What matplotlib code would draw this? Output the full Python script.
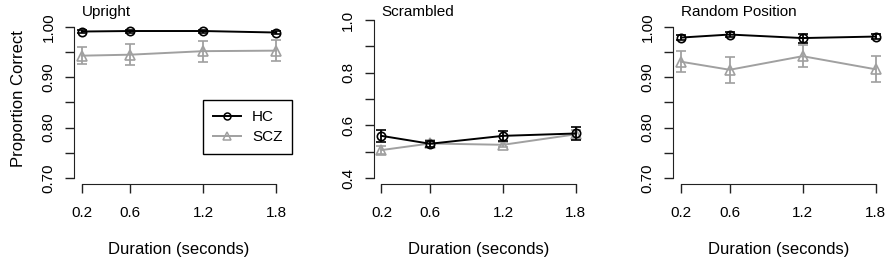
import numpy as np
import matplotlib
matplotlib.use('Agg')
import matplotlib.pyplot as plt
from matplotlib.lines import Line2D

plt.rcParams['font.family'] = ['Liberation Sans', 'DejaVu Sans']

durations = [0.2, 0.6, 1.2, 1.8]
panel_titles = ['Upright', 'Scrambled', 'Random Position']

# proportion correct
hc_upright = [0.991, 0.992, 0.992, 0.989]
hc_upright_err = [0.003, 0.003, 0.003, 0.003]
scz_upright = [0.943, 0.945, 0.952, 0.953]
scz_upright_err = [0.017, 0.021, 0.021, 0.021]

hc_scrambled = [0.560, 0.530, 0.560, 0.569]
hc_scrambled_err = [0.022, 0.012, 0.020, 0.023]
scz_scrambled = [0.506, 0.531, 0.526, 0.566]
scz_scrambled_err = [0.015, 0.012, 0.010, 0.015]

hc_random = [0.979, 0.985, 0.978, 0.981]
hc_random_err = [0.005, 0.005, 0.009, 0.005]
scz_random = [0.931, 0.915, 0.942, 0.916]
scz_random_err = [0.021, 0.026, 0.022, 0.026]

yticks_list = [[0.70, 0.80, 0.90, 1.00], [0.4, 0.6, 0.8, 1.0], [0.70, 0.80, 0.90, 1.00]]
ytick_fmt = ['%.2f', '%.1f', '%.2f']
yminor_list = [[0.75, 0.85, 0.95], [0.5, 0.7, 0.9], [0.75, 0.85, 0.95]]

hc_all = [(hc_upright, hc_upright_err), (hc_scrambled, hc_scrambled_err), (hc_random, hc_random_err)]
scz_all = [(scz_upright, scz_upright_err), (scz_scrambled, scz_scrambled_err), (scz_random, scz_random_err)]

W, H = 892, 263
fig = plt.figure(figsize=(W / 100, H / 100), dpi=100)

lefts = [74, 373.7, 673.3]
width_px = 210
top_px, bot_px = 13.7, 184.3
gray = '#a0a0a0'

for i in range(3):
    ax = fig.add_axes([lefts[i] / W, 1 - bot_px / H, width_px / W, (bot_px - top_px) / H])
    yt = yticks_list[i]
    span = yt[-1] - yt[0]
    # y limits chosen so the axis ticks line up with the figure
    if i == 1:
        ax.set_ylim(yt[0] - 0.04 * span, yt[-1] + 0.04 * span)
    else:
        ax.set_ylim(yt[0] - 0.0417 * span, yt[-1] + 0.088 * span)
    ax.set_xlim(0.2 - 0.064, 1.8 + 0.064)

    y, e = scz_all[i]
    ax.errorbar(durations, y, yerr=e, color=gray, marker='^', markersize=7.5,
                markerfacecolor='none', markeredgewidth=1.2, lw=1.4, capsize=3.8, elinewidth=1.3,
                capthick=1.3, zorder=2)
    y, e = hc_all[i]
    ax.errorbar(durations, y, yerr=e, color='black', marker='o', markersize=6,
                markerfacecolor='none', markeredgewidth=1.2, lw=1.4, capsize=3.8, elinewidth=1.3,
                capthick=1.3, zorder=3)

    for s in ['top', 'right']:
        ax.spines[s].set_visible(False)
    ax.spines['left'].set_bounds(yt[0], yt[-1])
    ax.spines['bottom'].set_bounds(0.2, 1.8)
    ax.spines['left'].set_color('#222222')
    ax.spines['bottom'].set_color('#222222')

    ax.set_xticks(durations)
    ax.set_xticklabels(['0.2', '0.6', '1.2', '1.8'])
    ax.set_yticks(yt + yminor_list[i])
    ax.set_yticklabels([ytick_fmt[i] % v for v in yt] + [''] * 3)
    ax.tick_params(axis='both', direction='out', length=6.4, width=1, color='#222222',
                   labelsize=11)
    ax.tick_params(axis='x', pad=9)
    ax.tick_params(axis='y', pad=7)
    for lab in ax.get_yticklabels():
        lab.set_rotation(90)
        lab.set_va('center')

    ax.set_xlabel('Duration (seconds)', fontsize=12, labelpad=16)
    fig.text((lefts[i] + 8) / W, 1 - 16 / H, panel_titles[i], fontsize=11,
             ha='left', va='baseline')
    if i == 0:
        ax.set_ylabel('Proportion Correct', fontsize=12, labelpad=11)
        handles = [Line2D([], [], color='black', marker='o', markersize=5, markerfacecolor='none',
                          markeredgewidth=1.1, lw=1.4),
                   Line2D([], [], color=gray, marker='^', markersize=6, markerfacecolor='none',
                          markeredgewidth=1.1, lw=1.4)]
        leg = ax.legend(handles, ['HC', 'SCZ'], loc='upper left',
                        bbox_to_anchor=((203 - lefts[0]) / width_px, (bot_px - 100) / (bot_px - top_px)),
                        borderaxespad=0, fontsize=11, fancybox=False, edgecolor='black',
                        framealpha=1, handlelength=1.85, borderpad=0.65, handletextpad=0.7,
                        labelspacing=0.4)
        leg.get_frame().set_linewidth(1)

fig.savefig('out.png', dpi=100)
